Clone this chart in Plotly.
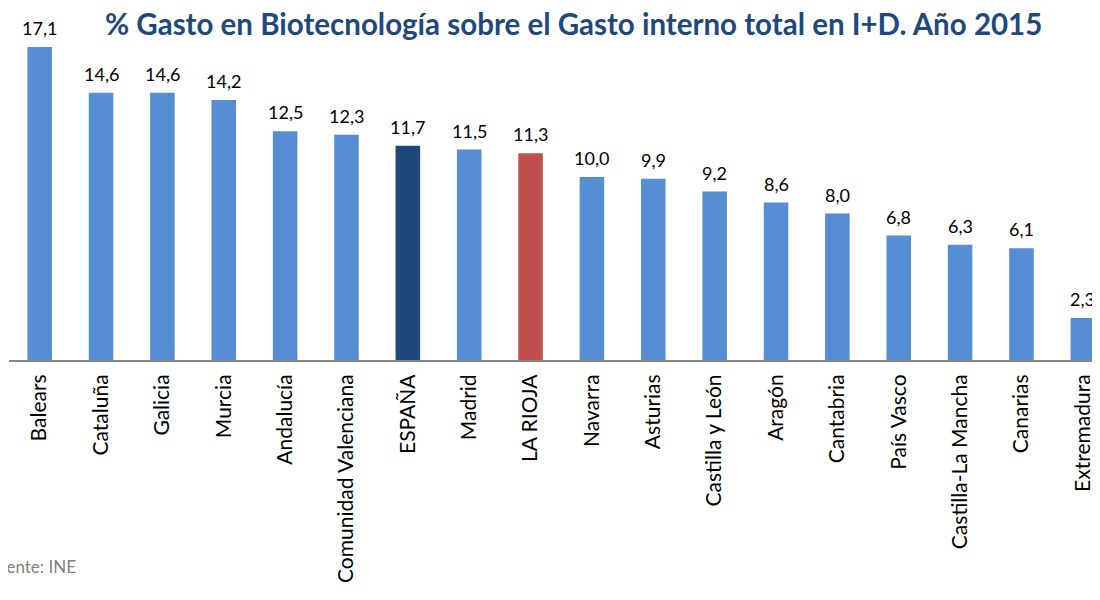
import plotly.graph_objects as go

regions = ["Balears", "Cataluña", "Galicia", "Murcia", "Andalucía", "Comunidad Valenciana",
           "ESPAÑA", "Madrid", "LA RIOJA", "Navarra", "Asturias", "Castilla y León", "Aragón",
           "Cantabria", "País Vasco", "Castilla-La Mancha", "Canarias", "Extremadura"]
values = [17.1, 14.6, 14.6, 14.2, 12.5, 12.3, 11.7, 11.5, 11.3, 10.0, 9.9, 9.2, 8.6, 8.0,
          6.8, 6.3, 6.1, 2.3]

BASE = "#558ED5"
colors = []
for r in regions:
    if r == "ESPAÑA":
        colors.append("#1F497D")
    elif r == "LA RIOJA":
        colors.append("#C0504D")
    else:
        colors.append(BASE)

labels = [f"{v:.1f}".replace(".", ",") for v in values]

fig = go.Figure()
fig.add_trace(go.Bar(x=regions, y=values, marker=dict(color=colors, line=dict(width=0)),
                     hoverinfo="skip"))

for r, v, t in zip(regions, values, labels):
    fig.add_annotation(x=r, y=v, text=t, showarrow=False, yanchor="bottom", yshift=6,
                       font=dict(family="Lato", size=18, color="#000000"))

fig.add_annotation(xref="paper", yref="paper", x=0.0632, y=-0.588, xanchor="right",
                   yanchor="middle", text="Fuente: INE", showarrow=False,
                   font=dict(family="Lato", size=17, color="#808080"))

fig.update_layout(
    width=1092, height=584,
    margin=dict(l=1, r=0, t=0, b=232, autoexpand=False),
    paper_bgcolor="white", plot_bgcolor="white",
    bargap=0.6,
    showlegend=False,
    title=dict(text="<b>% Gasto en Biotecnología sobre el Gasto interno total en I+D. Año 2015</b>",
               x=0.518, xanchor="center", y=0.9716, yanchor="middle",
               font=dict(family="Lato", size=29.5, color="#1F497D")),
    xaxis=dict(range=[-0.5, 17.28], showline=True, linecolor="#868686", linewidth=2,
               tickangle=-90, ticks="outside", ticklen=4, tickcolor="rgba(0,0,0,0)",
               tickfont=dict(family="Lato", size=21, color="#000000"), showgrid=False,
               fixedrange=True, automargin=False),
    yaxis=dict(range=[0, 19.23], visible=False, showgrid=False, fixedrange=True,
               automargin=False),
)

fig.write_html("out.html")
